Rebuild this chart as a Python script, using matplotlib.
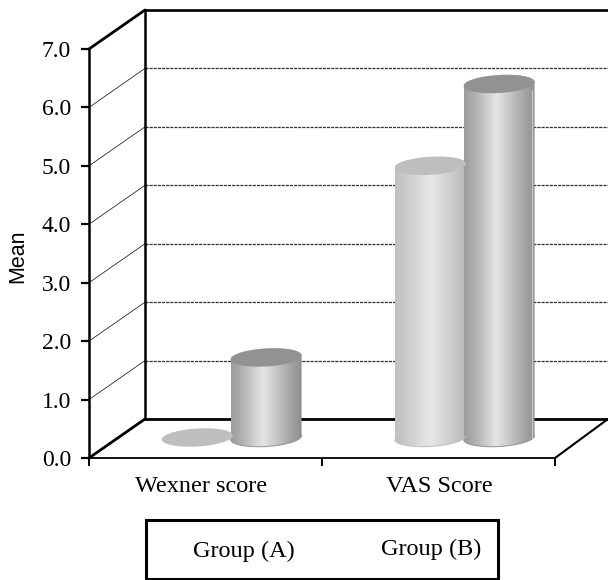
"""Mean Wexner and VAS scores by group, pseudo-3D cylinder chart."""
import numpy as np
import matplotlib
matplotlib.use("Agg")
import matplotlib.pyplot as plt
from matplotlib.colors import LinearSegmentedColormap
from matplotlib.patches import PathPatch, Rectangle
from matplotlib.path import Path

plt.rcParams["font.family"] = ["Liberation Serif", "DejaVu Serif"]

categories = ["Wexner score", "VAS Score"]
group_names = ["Group (A)", "Group (B)"]
group_a = [0.0, 4.65]
group_b = [1.37, 6.05]
y_ticks = [0, 1, 2, 3, 4, 5, 6, 7]

W, H = 608, 580
fig = plt.figure(figsize=(W / 100, H / 100), dpi=100)
ax = fig.add_axes([89 / W, (H - 458) / H, 466 / W, 409 / H])
ax.set_xlim(0, 2)
ax.set_ylim(0, 7)
ax.patch.set_alpha(0)
for s in ax.spines.values():
    s.set_visible(False)

# scale of the axes, for the fake depth
px_x = 2 / 466
px_y = 7 / 409
dx, dy = 56 * px_x, 39 * px_y
right = (608 - 89) * px_x


def line(xs, ys, **kw):
    ax.plot(xs, ys, color="black", clip_on=False, solid_capstyle="round", **kw)


# walls and floor
for v in y_ticks[1:-1]:
    line([0, dx], [v, v + dy], lw=0.5)
    ax.plot([dx, right], [v + dy, v + dy], color="#333333", lw=0.9, ls=(0, (2.5, 0.8)), clip_on=False)
line([0, dx], [7, 7 + dy], lw=2.0)
line([dx, right], [7 + dy, 7 + dy], lw=1.9)
line([0, 0], [0, 7], lw=1.8)
line([dx, dx], [dy, 7 + dy], lw=1.8)
line([0, dx], [0, dy], lw=2.0)
line([dx, right], [dy, dy], lw=2.0)
line([0, 2], [0, 0], lw=1.3)
line([2, right], [0, dy], lw=1.5)

ax.set_yticks(y_ticks)
ax.set_yticklabels([f"{v:.1f}" for v in y_ticks], fontsize=17)
ax.tick_params(axis="y", length=6, width=1.6, pad=7)
ax.set_xticks([0, 1, 2])
ax.set_xticklabels([])
ax.tick_params(axis="x", which="major", length=6, width=1.4)
ax.set_xticks([0.483, 1.503], minor=True)
ax.set_xticklabels(categories, minor=True, fontsize=17.5)
ax.tick_params(axis="x", which="minor", length=0, pad=13)
fig.text(18 / W, 1 - 256 / H, "Mean", rotation=90, ha="center", va="center",
         fontsize=15.5, family="Liberation Sans")

cmap_a = LinearSegmentedColormap.from_list("a", [(0, "#c0c0c0"), (0.15, "#cacaca"), (0.5, "#e8e8e8"),
                                                 (0.85, "#c8c8c8"), (1, "#b8b8b8")])
cmap_b = LinearSegmentedColormap.from_list("b", [(0, "#9c9c9c"), (0.15, "#b0b0b0"), (0.45, "#e6e6e6"),
                                                 (0.8, "#ababab"), (1, "#8e8e8e")])
a_px, b_px = 35.5 * px_x, 9 * px_y
tilt = 2 * px_y
base = 20.5 * px_y


def cylinder(cx, value, cmap, top_color):
    t = np.linspace(0, 2 * np.pi, 121)
    ex, ey = a_px * np.cos(t), b_px * np.sin(t) + tilt * np.cos(t)
    if value > 0:
        lo = np.linspace(np.pi, 2 * np.pi, 61)
        hi = np.linspace(0, np.pi, 61)
        xs = np.r_[cx + a_px * np.cos(lo), cx + a_px * np.cos(hi)]
        ys = np.r_[base + b_px * np.sin(lo) + tilt * np.cos(lo),
                   base + value + b_px * np.sin(hi) + tilt * np.cos(hi)]
        clip = PathPatch(Path(np.c_[xs, ys]), transform=ax.transData, fc="none", ec="none")
        ax.add_patch(clip)
        im = ax.imshow(np.linspace(0, 1, 128)[None, :], cmap=cmap, aspect="auto", zorder=3,
                       extent=[cx - a_px, cx + a_px, 0, 7 + dy], clip_on=True)
        im.set_clip_path(clip)
        ax.plot(cx + a_px * np.cos(lo), base + b_px * np.sin(lo) + tilt * np.cos(lo),
                color=top_color, lw=0.7, zorder=3.1, clip_on=False)
    ax.fill(cx + ex, base + value + ey, color=top_color, lw=0, zorder=3.2, clip_on=False)


for i in range(len(categories)):
    cylinder(i + 0.465, group_a[i], cmap_a, "#bebebe")
    cylinder(i + 0.76, group_b[i], cmap_b, "#929292")

# pale strip down the right of the tall cylinder
strip_x = 1 + 0.76 + 33 * px_x
ax.plot([strip_x, strip_x], [base, base + group_b[1] - 0.1], color="#c6c6c6", lw=0.9, zorder=3.1)
ax.set_xlim(0, 2)
ax.set_ylim(0, 7)

# legend box, no swatches in the original
fig.add_artist(Rectangle((146 / W, 1 - 579 / H), 352 / W, 59 / H, transform=fig.transFigure,
                         fc="white", ec="black", lw=2.2, clip_on=False))
fig.text(244 / W, 1 - 551 / H, group_names[0], ha="center", va="center", fontsize=17.5)
fig.text(431 / W, 1 - 549 / H, group_names[1], ha="center", va="center", fontsize=17.5)

fig.savefig("out.png", dpi=100)
